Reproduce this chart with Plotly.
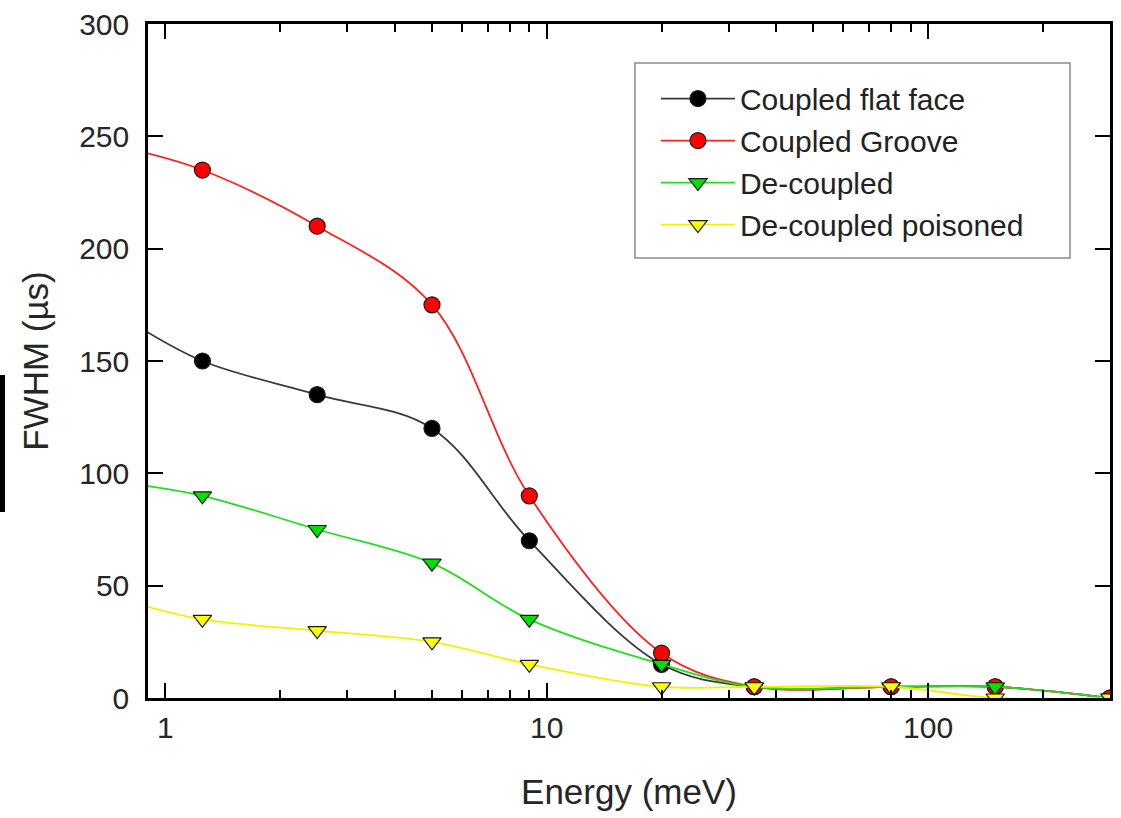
import plotly.graph_objects as go

# Neutron energy (meV); 0.8 meV is the lead-in point, just left of the visible range
energy = [0.8, 1.25, 2.5, 5, 9, 20, 35, 80, 150, 300]

# Pulse width FWHM (microseconds) for each moderator configuration
coupled_flat = [168, 150, 135, 120, 70, 15, 5, 5, 5, 0]
coupled_groove = [244.5, 235, 210, 175, 90, 20, 5, 5, 5, 0]
decoupled = [95.5, 90, 75, 60, 35, 15, 5, 5, 5, 0]
decoupled_poisoned = [43, 35, 30, 25, 15, 5, 5, 5, 0, 0]

series = [
    ("Coupled flat face", coupled_flat, "#3a3a3a", "#000000", "circle"),
    ("Coupled Groove", coupled_groove, "#ff2020", "#ff0000", "circle"),
    ("De-coupled", decoupled, "#22dd22", "#00e000", "triangle-down"),
    ("De-coupled poisoned", decoupled_poisoned, "#f2f200", "#ffff00", "triangle-down"),
]

x_major = [1, 10, 100]
x_minor = [2, 3, 4, 5, 6, 7, 8, 9, 20, 30, 40, 50, 60, 70, 80, 90, 200]

fig = go.Figure()
for name, vals, line_col, fill_col, sym in series:
    fig.add_trace(go.Scatter(
        x=energy, y=vals, name=name, mode="lines+markers",
        line=dict(color=line_col, width=1.8, shape="spline", smoothing=1.0),
        marker=dict(symbol=sym, size=16, color=fill_col,
                    line=dict(color="#1a1a1a", width=1.2)),
        cliponaxis=True,
    ))

font_family = "Liberation Sans, Arial, sans-serif"

fig.update_layout(
    width=1121, height=818,
    margin=dict(l=148, r=11, t=24, b=120),
    paper_bgcolor="white", plot_bgcolor="white",
    font=dict(family=font_family, size=30, color="#262626"),
    showlegend=True,
    legend=dict(
        x=0.528, y=0.928, xanchor="left", yanchor="top",
        bgcolor="rgba(0,0,0,0)", borderwidth=0,
        font=dict(size=30, color="#222222"),
        tracegroupgap=0, itemwidth=74,
    ),
    xaxis=dict(
        type="log", range=[-0.0458, 2.4771], automargin=False,
        tickmode="array", tickvals=x_major, ticktext=["1", "10", "100"],
        ticks="inside", ticklen=15, tickwidth=2, tickcolor="black",
        minor=dict(tickmode="array", tickvals=x_minor, ticks="inside",
                   ticklen=8, tickwidth=2, tickcolor="black", showgrid=False),
        showline=True, linewidth=2.5, linecolor="black", mirror="ticks",
        showgrid=False, zeroline=False,
        tickfont=dict(size=30), ticklabelstandoff=1,
        title=dict(text="Energy (meV)", font=dict(size=35), standoff=37),
    ),
    yaxis=dict(
        range=[0, 300], tickmode="linear", tick0=0, dtick=50, automargin=False,
        ticks="inside", ticklen=15, tickwidth=2, tickcolor="black",
        showline=True, linewidth=2.5, linecolor="black", mirror="ticks",
        showgrid=False, zeroline=False,
        tickfont=dict(size=30), ticklabelstandoff=10,
        title=dict(text="FWHM (\u00b5s)", font=dict(size=35), standoff=20),
    ),
)

# Legend frame
fig.add_shape(type="rect", xref="paper", yref="paper",
              x0=0.5062, x1=0.9584, y0=0.6528, y1=0.9421,
              fillcolor="white", line=dict(color="#8a8a8a", width=1.5),
              layer="above")

# Dark bar along the left edge
fig.add_shape(type="rect", xref="paper", yref="paper",
              x0=-148 / 962, x1=-143 / 962,
              y0=(698 - 512) / 674, y1=(698 - 375) / 674,
              fillcolor="black", line=dict(width=0), layer="above")

fig.write_html("out.html")
